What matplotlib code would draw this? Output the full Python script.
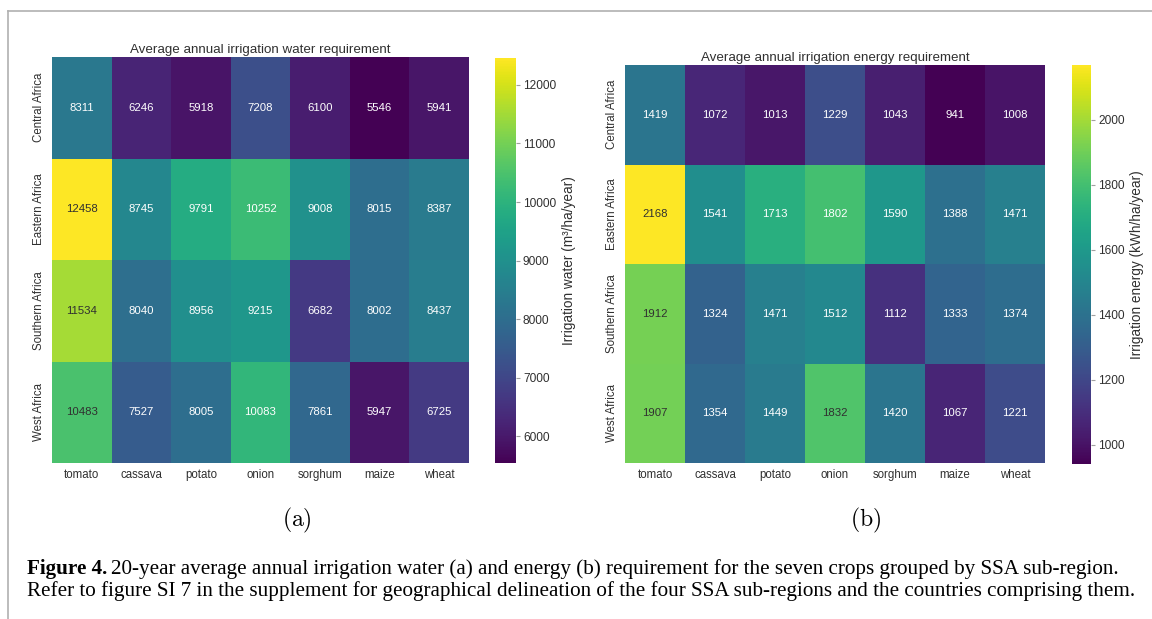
import numpy as np
import matplotlib
matplotlib.use("Agg")
import matplotlib.pyplot as plt
from matplotlib.colors import Normalize, to_rgb
from matplotlib.lines import Line2D

# data
crops = ["tomato", "cassava", "potato", "onion", "sorghum", "maize", "wheat"]
regions = ["Central Africa", "Eastern Africa", "Southern Africa", "West Africa"]

water = [
    [8311, 6246, 5918, 7208, 6100, 5546, 5941],
    [12458, 8745, 9791, 10252, 9008, 8015, 8387],
    [11534, 8040, 8956, 9215, 6682, 8002, 8437],
    [10483, 7527, 8005, 10083, 7861, 5947, 6725],
]
energy = [
    [1419, 1072, 1013, 1229, 1043, 941, 1008],
    [2168, 1541, 1713, 1802, 1590, 1388, 1471],
    [1912, 1324, 1471, 1512, 1112, 1333, 1374],
    [1907, 1354, 1449, 1832, 1420, 1067, 1221],
]
water_ticks = [6000, 7000, 8000, 9000, 10000, 11000, 12000]
energy_ticks = [1000, 1200, 1400, 1600, 1800, 2000]

plt.rcParams["font.family"] = ["Liberation Sans", "DejaVu Sans"]
plt.rcParams["mathtext.fontset"] = "cm"
TXT = "#303030"

W, H = 1152, 619
fig = plt.figure(figsize=(W / 100, H / 100), dpi=100)


def box(x0, y0, x1, y1):
    # pixel box (top-left origin) -> figure fraction rect
    return [x0 / W, 1 - y1 / H, (x1 - x0) / W, (y1 - y0) / H]


def luminance(c):
    rgb = np.array(to_rgb(c))
    rgb = np.where(rgb <= .03928, rgb / 12.92, ((rgb + .055) / 1.055) ** 2.4)
    return rgb.dot([.2126, .7152, .0722])


def heatmap(ax, cax, data, title, cbar_label, ticks):
    arr = np.array(data, dtype=float)
    cmap = plt.get_cmap("viridis")
    norm = Normalize(arr.min(), arr.max())
    mesh = ax.pcolormesh(arr, cmap=cmap, norm=norm)
    ax.set_xlim(0, arr.shape[1])
    ax.set_ylim(arr.shape[0], 0)
    for i in range(arr.shape[0]):
        for j in range(arr.shape[1]):
            col = cmap(norm(arr[i, j]))
            tc = TXT if luminance(col) > .408 else "white"
            ax.text(j + .5, i + .5, "%d" % arr[i, j], ha="center", va="center",
                    fontsize=8.2, color=tc)
    ax.set_xticks(np.arange(arr.shape[1]) + .5)
    ax.set_xticklabels(crops, fontsize=8.3, color=TXT)
    ax.set_yticks(np.arange(arr.shape[0]) + .5)
    ax.set_yticklabels(regions, fontsize=8.3, color=TXT, rotation=90, va="center")
    ax.tick_params(axis="x", length=0, pad=4)
    ax.tick_params(axis="y", length=0, pad=5)
    for s in ax.spines.values():
        s.set_visible(False)
    ax.set_title(title, fontsize=9.6, color=TXT, pad=3)

    cb = fig.colorbar(mesh, cax=cax)
    cb.outline.set_visible(False)
    cb.set_ticks(ticks)
    cb.ax.tick_params(labelsize=8.6, labelcolor=TXT, color="#a0a0a0", length=3, width=0.8, pad=2)
    cb.set_label(cbar_label, fontsize=9.8, color=TXT, labelpad=4)


ax1 = fig.add_axes(box(52, 57, 469, 463))
cax1 = fig.add_axes(box(495, 58, 516, 463))
ax2 = fig.add_axes(box(625, 65, 1045, 463))
cax2 = fig.add_axes(box(1072, 65, 1091, 464))

heatmap(ax1, cax1, water, "Average annual irrigation water requirement",
        "Irrigation water (m³/ha/year)", water_ticks)
heatmap(ax2, cax2, energy, "Average annual irrigation energy requirement",
        "Irrigation energy (kWh/ha/year)", energy_ticks)

# panel letters
fig.text(297 / W, 1 - 520 / H, r"$\mathrm{(a)}$", ha="center", va="center", fontsize=17)
fig.text(866 / W, 1 - 520 / H, r"$\mathrm{(b)}$", ha="center", va="center", fontsize=17)

# caption
cap_font = ["Liberation Serif", "DejaVu Serif"]
cap_size = 15.2
y1 = 1 - 574 / H
y2 = 1 - 596 / H
t1 = fig.text(27 / W, y1, "Figure 4.", fontsize=cap_size, fontweight="bold",
              family=cap_font, va="baseline")
fig.canvas.draw()
bb = t1.get_window_extent()
fig.text(bb.x1 / W + 4 / W, y1,
         "20-year average annual irrigation water (a) and energy (b) requirement "
         "for the seven crops grouped by SSA sub-region.",
         fontsize=cap_size, family=cap_font, va="baseline")
fig.text(27 / W, y2,
         "Refer to figure SI 7 in the supplement for geographical delineation of the "
         "four SSA sub-regions and the countries comprising them.",
         fontsize=cap_size, family=cap_font, va="baseline")

# page frame
fig.add_artist(Line2D([8 / W, 1], [1 - 11 / H, 1 - 11 / H], color="#b0b0b0", lw=1.2))
fig.add_artist(Line2D([8 / W, 8 / W], [0, 1 - 11 / H], color="#b0b0b0", lw=1.2))

fig.savefig("out.png", dpi=100)
